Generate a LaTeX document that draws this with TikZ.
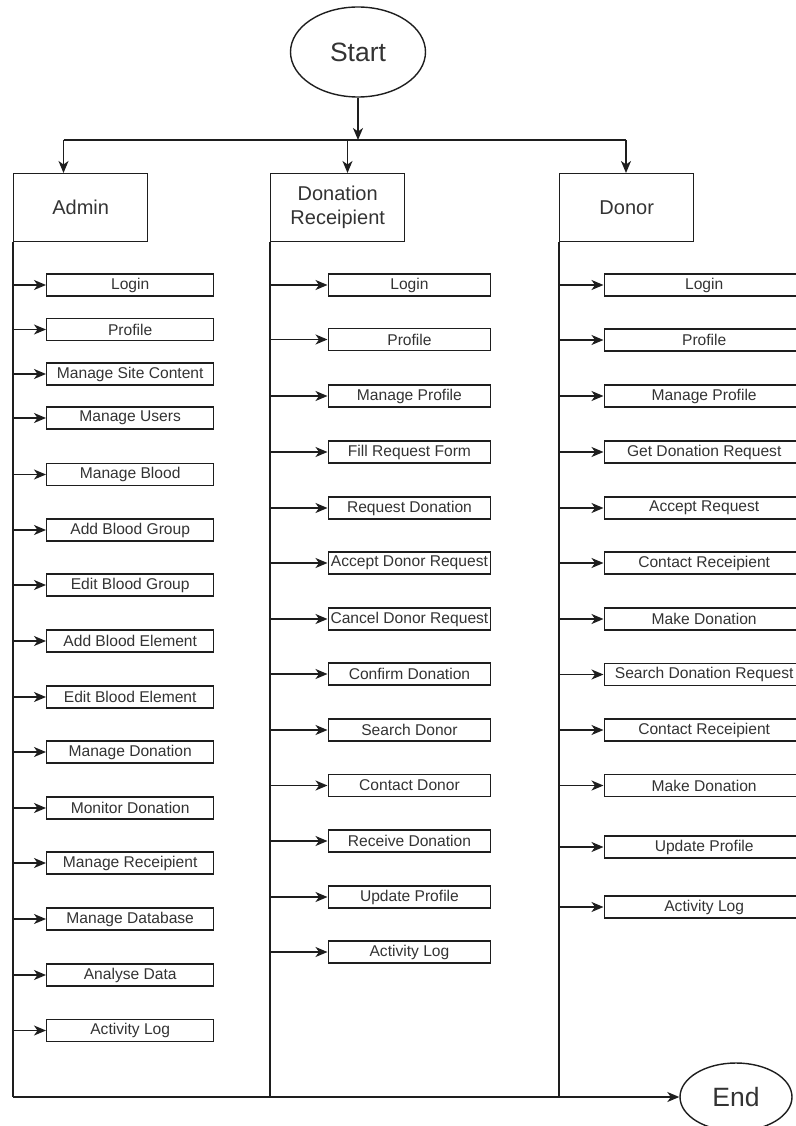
\documentclass[tikz,border=0pt]{standalone}
\usepackage{fontspec}
\setmainfont{Liberation Sans}
\usetikzlibrary{arrows.meta,shapes.geometric}
\definecolor{ink}{HTML}{1E1E1E}
\definecolor{txt}{HTML}{333333}

\begin{document}
\begin{tikzpicture}[x=1pt,y=-1pt]

%\laneitem{name}{lane}{ypos}{text}
\newcommand*{\laneitem}[4]{%
	\node [item, minimum width=\boxw, anchor=west] (#1) at (\boxx, #3) {#4};
	\draw [flow] (#2.west |- #1.west) -- (#1.west);
}

\tikzset{%
    flow/.style={-{Stealth[length=12pt,width=10pt,inset=3.5pt]},draw=ink,line width=1.4pt},
    lane/.style={draw=ink,line width=1.4pt},
    item/.style={draw=ink,line width=1.4pt,inner sep=0pt,minimum height=22,text=txt,font=\fontsize{15.6}{18}\selectfont},
    head/.style={draw=ink,line width=1.4pt,inner sep=0pt,minimum width=134,minimum height=68,align=center,text=txt,font=\fontsize{20}{24}\selectfont},
    term/.style={ellipse,draw=ink,line width=1.4pt,inner sep=0pt,text=txt,font=\fontsize{26.5}{30}\selectfont},
}

\useasboundingbox (0,0) rectangle (795,1126);

% start and the three lanes
\node [term, minimum width=135, minimum height=90] (start) at (358,52) {Start};
\node [head, anchor=north west] (adm) at (13,173) {Admin};
\node [head, anchor=north west] (rcp) at (270,173) {Donation\\Receipient};
\node [head, anchor=north west] (dnr) at (559,173) {Donor};
\node [term, minimum width=112, minimum height=68] (end) at (736,1097) {End};

\coordinate (split) at (358,140);
\coordinate (ja) at (63.5,140);
\coordinate (jr) at (347.5,140);
\coordinate (jd) at (626,140);
\coordinate (bot) at (13,1097);

\draw [flow] (start) -- (split);
\draw [lane] (ja) -- (jd);
\draw [flow] (ja) -- (ja |- adm.north);
\draw [flow] (jr) -- (jr |- rcp.north);
\draw [flow] (jd) -- (jd |- dnr.north);

\draw [lane] (adm.south west) -- (adm.south west |- bot);
\draw [lane] (rcp.south west) -- (rcp.south west |- bot);
\draw [lane] (dnr.south west) -- (dnr.south west |- bot);
\draw [flow] (bot) -- (end);

% admin
\def\boxx{46}
\def\boxw{167}
\laneitem{a1}{adm}{285}{Login}
\laneitem{a2}{adm}{329.5}{Profile}
\laneitem{a3}{adm}{374}{Manage Site Content}
\laneitem{a4}{adm}{418}{Manage Users}
\laneitem{a5}{adm}{474.5}{Manage Blood}
\laneitem{a6}{adm}{530}{Add Blood Group}
\laneitem{a7}{adm}{585}{Edit Blood Group}
\laneitem{a8}{adm}{641}{Add Blood Element}
\laneitem{a9}{adm}{697}{Edit Blood Element}
\laneitem{a10}{adm}{752}{Manage Donation}
\laneitem{a11}{adm}{808}{Monitor Donation}
\laneitem{a12}{adm}{863}{Manage Receipient}
\laneitem{a13}{adm}{919}{Manage Database}
\laneitem{a14}{adm}{975}{Analyse Data}
\laneitem{a15}{adm}{1030.5}{Activity Log}

% donation receipient
\def\boxx{327.5}
\def\boxw{162.5}
\laneitem{r1}{rcp}{285}{Login}
\laneitem{r2}{rcp}{339.5}{Profile}
\laneitem{r3}{rcp}{396}{Manage Profile}
\laneitem{r4}{rcp}{452}{Fill Request Form}
\laneitem{r5}{rcp}{508}{Request Donation}
\laneitem{r6}{rcp}{563}{Accept Donor Request}
\laneitem{r7}{rcp}{619}{Cancel Donor Request}
\laneitem{r8}{rcp}{674}{Confirm Donation}
\laneitem{r9}{rcp}{730}{Search Donor}
\laneitem{r10}{rcp}{785.5}{Contact Donor}
\laneitem{r11}{rcp}{841}{Receive Donation}
\laneitem{r12}{rcp}{897}{Update Profile}
\laneitem{r13}{rcp}{952}{Activity Log}

% donor
\def\boxx{603.5}
\def\boxw{200}
\laneitem{d1}{dnr}{285}{Login}
\laneitem{d2}{dnr}{340}{Profile}
\laneitem{d3}{dnr}{396}{Manage Profile}
\laneitem{d4}{dnr}{452}{Get Donation Request}
\laneitem{d5}{dnr}{508}{Accept Request}
\laneitem{d6}{dnr}{563}{Contact Receipient}
\laneitem{d7}{dnr}{619}{Make Donation}
\laneitem{d8}{dnr}{674.5}{Search Donation Request}
\laneitem{d9}{dnr}{730}{Contact Receipient}
\laneitem{d10}{dnr}{785.5}{Make Donation}
\laneitem{d11}{dnr}{847}{Update Profile}
\laneitem{d12}{dnr}{907}{Activity Log}

\end{tikzpicture}
\end{document}
